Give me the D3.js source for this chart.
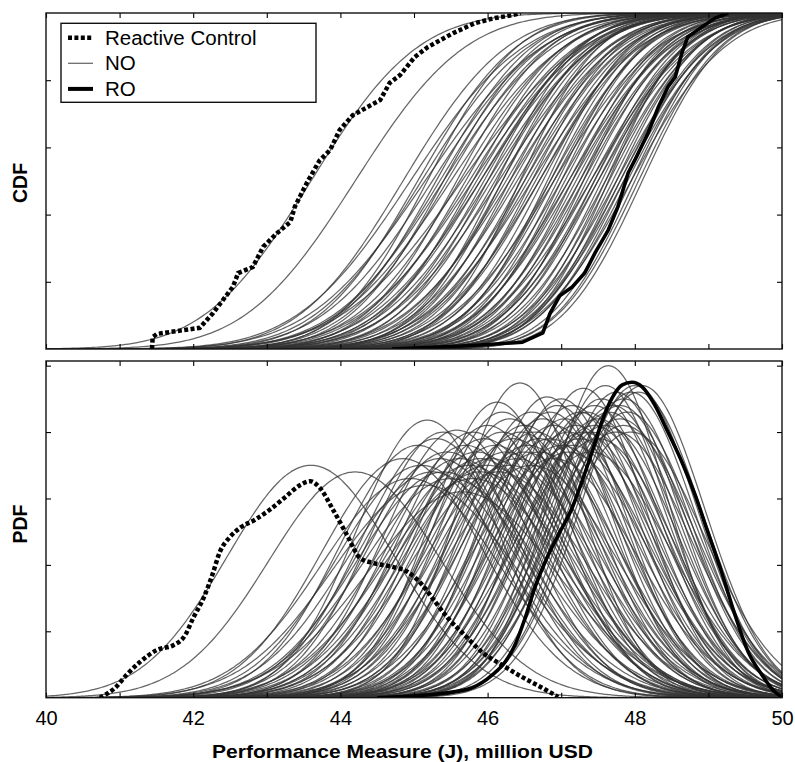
<!DOCTYPE html>
<html>
<head>
    <meta charset="utf-8">
    <script src="https://cdn.jsdelivr.net/npm/d3@7"></script>
    <title></title>
    <style>
        * {
            margin: 0;
            padding: 0;
        }

        body {
            background: #fff;
        }

        #chart {
            display: block;
            font-family: "Liberation Sans", Arial, sans-serif;
        }
    </style>
</head>
<body>

    <svg id="chart" width="795" height="762"></svg>

    <script>
        // x axis ticks (labels only on the even ones)
        var xTicks = [40, 41, 42, 43, 44, 45, 46, 47, 48, 49, 50];
        var cdfTicks = [0.2, 0.4, 0.6, 0.8];
        var pdfTicks = [0.1, 0.2, 0.3, 0.4, 0.5];

        // Reactive Control
        var rcCdfX = [41.44, 41.45, 41.51, 42.09, 42.27, 42.54, 42.61, 42.81, 42.95, 43.14, 43.32, 43.38, 43.55, 43.72, 43.86, 43.99, 44.17, 44.54, 44.67, 44.81, 45.01, 45.19, 45.53, 45.83, 46.10, 46.35, 46.45];
        var rcCdfY = [0, 0.036, 0.045, 0.063, 0.107, 0.185, 0.226, 0.244, 0.304, 0.345, 0.378, 0.423, 0.497, 0.562, 0.592, 0.652, 0.696, 0.741, 0.792, 0.815, 0.869, 0.899, 0.940, 0.970, 0.985, 0.994, 1.0];
        var rcPdfX = [40.73, 40.94, 41.10, 41.28, 41.51, 41.73, 41.89, 42.00, 42.14, 42.26, 42.36, 42.50, 42.64, 42.84, 43.04, 43.25, 43.45, 43.59, 43.72, 43.90, 44.09, 44.27, 44.44, 44.71, 44.92, 45.11, 45.29, 45.46, 45.69, 45.92, 46.20, 46.47, 46.74, 46.96];
        var rcPdfY = [0, 0.015, 0.035, 0.054, 0.072, 0.079, 0.094, 0.120, 0.150, 0.185, 0.219, 0.242, 0.256, 0.268, 0.283, 0.302, 0.320, 0.326, 0.316, 0.283, 0.245, 0.210, 0.203, 0.197, 0.189, 0.170, 0.144, 0.120, 0.094, 0.069, 0.049, 0.031, 0.015, 0.001];

        // RO
        var roCdfX = [44.7, 45.65, 45.9, 46.47, 46.75, 46.85, 46.98, 47.15, 47.32, 47.46, 47.64, 47.77, 47.91, 48.00, 48.18, 48.32, 48.45, 48.55, 48.64, 48.72, 48.91, 49.09, 49.27];
        var roCdfY = [0, 0.009, 0.012, 0.02, 0.048, 0.107, 0.158, 0.185, 0.226, 0.286, 0.354, 0.423, 0.524, 0.562, 0.643, 0.720, 0.780, 0.810, 0.881, 0.929, 0.958, 0.985, 1.0];
        var roPdfX = [44.5, 45.42, 45.79, 46.06, 46.24, 46.37, 46.51, 46.64, 46.78, 46.96, 47.15, 47.28, 47.42, 47.55, 47.69, 47.83, 47.96, 48.10, 48.27, 48.45, 48.64, 48.82, 48.99, 49.18, 49.36, 49.54, 49.73, 49.90, 50.0];
        var roPdfY = [0, 0.007, 0.015, 0.034, 0.054, 0.079, 0.120, 0.165, 0.204, 0.245, 0.286, 0.325, 0.370, 0.415, 0.451, 0.471, 0.475, 0.468, 0.441, 0.400, 0.355, 0.305, 0.250, 0.189, 0.125, 0.069, 0.034, 0.009, 0.001];

        // NO runs: too many to trace, so each one is kept as its PDF peak
        // (position, height) as estimated from the lower panel
        var noPeakX = [43.6, 44.2, 44.85, 44.95, 45.05, 45.1, 45.18, 45.25, 45.3, 45.35, 45.45, 45.5, 45.58, 45.62, 45.7, 45.75, 45.8, 45.85, 45.9, 45.95,
            46.0, 46.05, 46.1, 46.13, 46.2, 46.25, 46.3, 46.35, 46.4, 46.44, 46.5, 46.55, 46.6, 46.65, 46.7, 46.75, 46.81, 46.85, 46.9, 46.95,
            47.0, 47.05, 47.1, 47.15, 47.2, 47.25, 47.3, 47.35, 47.4, 47.45, 47.5, 47.55, 47.6, 47.64, 47.7, 47.75, 47.8, 47.85, 47.9, 47.95,
            48.0, 48.05, 48.1,
            45.15, 45.4, 45.65, 45.9, 46.15, 46.3, 46.5, 46.7, 46.9, 47.1, 47.25, 47.4, 47.5, 47.65, 47.75, 47.85, 47.95, 47.0, 46.6, 46.2,
            45.8, 45.4, 47.3, 47.6, 47.8, 46.0, 46.45, 46.85, 47.15, 47.45];
        var noPeakY = [0.35, 0.34, 0.36, 0.33, 0.38, 0.35, 0.418, 0.34, 0.39, 0.36, 0.37, 0.33, 0.403, 0.36, 0.38, 0.35, 0.40, 0.37, 0.34, 0.39,
            0.41, 0.36, 0.38, 0.445, 0.40, 0.37, 0.42, 0.39, 0.36, 0.474, 0.41, 0.38, 0.43, 0.40, 0.37, 0.42, 0.453, 0.39, 0.41, 0.44,
            0.38, 0.42, 0.40, 0.44, 0.41, 0.39, 0.466, 0.43, 0.40, 0.44, 0.42, 0.45, 0.41, 0.50, 0.44, 0.46, 0.42, 0.45, 0.43, 0.46,
            0.47, 0.46, 0.47,
            0.32, 0.34, 0.31, 0.36, 0.34, 0.35, 0.37, 0.39, 0.36, 0.37, 0.43, 0.37, 0.39, 0.43, 0.40, 0.41, 0.40, 0.45, 0.35, 0.43,
            0.33, 0.40, 0.40, 0.47, 0.44, 0.35, 0.40, 0.43, 0.38, 0.41];

        var svg = d3.select("#chart");

        var x = d3.scaleLinear().domain([40, 50]).range([46, 782]);
        var yCdf = d3.scaleLinear().domain([0, 1]).range([349, 13]);
        var yPdf = d3.scaleLinear().domain([0, 0.507]).range([697.7, 361]);

        var panels = [
            { name: "cdf", y: yCdf, ticks: cdfTicks, label: "CDF", labelY: 183 },
            { name: "pdf", y: yPdf, ticks: pdfTicks, label: "PDF", labelY: 524 }
        ];

        // normal cdf (Abramowitz-Stegun erf)
        function phi(z) {
            var t = 1 / (1 + 0.3275911 * Math.abs(z) / Math.SQRT2);
            var e = 1 - (((((1.061405429 * t - 1.453152027) * t) + 1.421413741) * t - 0.284496736) * t + 0.254829592) * t * Math.exp(-z * z / 2);
            return z >= 0 ? (1 + e) / 2 : (1 - e) / 2;
        }

        var grid = d3.range(40, 50.0001, 0.04);
        var noCurves = noPeakX.map(function (m, i) {
            var s = 1 / (noPeakY[i] * Math.sqrt(2 * Math.PI));
            return {
                cdf: grid.map(function (v) { return [v, phi((v - m) / s)]; }),
                pdf: grid.map(function (v) { return [v, noPeakY[i] * Math.exp(-(v - m) * (v - m) / (2 * s * s))]; })
            };
        });

        function zip(a, b) { return a.map(function (d, i) { return [d, b[i]]; }); }
        var rc = { cdf: zip(rcCdfX, rcCdfY), pdf: zip(rcPdfX, rcPdfY) };
        var ro = { cdf: zip(roCdfX, roCdfY), pdf: zip(roPdfX, roPdfY) };

        var defs = svg.append("defs");

        panels.forEach(function (p) {
            var y = p.y;
            var top = y.range()[1], bottom = y.range()[0];

            defs.append("clipPath").attr("id", "clip-" + p.name)
                .append("rect")
                .attr("x", x.range()[0]).attr("y", top)
                .attr("width", x.range()[1] - x.range()[0])
                .attr("height", bottom - top);

            var g = svg.append("g");
            var plot = g.append("g").attr("clip-path", "url(#clip-" + p.name + ")");

            var curve = p.name == "pdf" ? d3.curveMonotoneX : d3.curveLinear;
            var line = d3.line()
                .x(function (d) { return x(d[0]); })
                .y(function (d) { return y(d[1]); })
                .curve(curve);

            plot.selectAll(".no")
                .data(noCurves)
                .enter()
                .append("path")
                .attr("class", "no")
                .attr("d", function (d) { return line(d[p.name]); })
                .style("fill", "none")
                .style("stroke", "#333")
                .style("stroke-opacity", 0.75)
                .style("stroke-width", 1.25);

            plot.append("path")
                .attr("d", line(ro[p.name]))
                .style("fill", "none")
                .style("stroke", "#000")
                .style("stroke-width", 3.6);

            plot.append("path")
                .attr("d", line(rc[p.name]))
                .style("fill", "none")
                .style("stroke", "#000")
                .style("stroke-width", 4.5)
                .style("stroke-dasharray", "4,2.4");

            // inward ticks on all four sides
            var axes = [
                { ax: d3.axisTop(x).tickValues(xTicks), t: "translate(0," + top + ")" },
                { ax: d3.axisBottom(x).tickValues(xTicks), t: "translate(0," + bottom + ")" },
                { ax: d3.axisLeft(y).tickValues(p.ticks), t: "translate(" + x.range()[0] + ",0)" },
                { ax: d3.axisRight(y).tickValues(p.ticks), t: "translate(" + x.range()[1] + ",0)" }
            ];
            axes.forEach(function (a, k) {
                var labelled = p.name == "pdf" && k == 1;
                a.ax.tickSizeInner(-5).tickSizeOuter(0).tickPadding(13)
                    .tickFormat(function (d) { return labelled && d % 2 == 0 ? d : ""; });
                var ag = g.append("g").attr("transform", a.t).call(a.ax);
                ag.select(".domain").remove();
                ag.selectAll(".tick line").attr("stroke", "#000").attr("stroke-width", 1.1);
                ag.selectAll("text")
                    .style("font-family", "'Liberation Sans', Arial, sans-serif")
                    .style("font-size", "20px")
                    .attr("fill", "#000");
            });

            g.append("rect")
                .attr("x", x.range()[0]).attr("y", top)
                .attr("width", x.range()[1] - x.range()[0])
                .attr("height", bottom - top)
                .style("fill", "none")
                .style("stroke", "#111")
                .style("stroke-width", 1.4);

            g.append("text")
                .attr("transform", "translate(27," + p.labelY + ") rotate(-90)")
                .attr("text-anchor", "middle")
                .style("font-weight", "bold")
                .style("font-size", "19.5px")
                .text(p.label);
        });

        svg.append("text")
            .attr("x", 402.5)
            .attr("y", 758)
            .attr("text-anchor", "middle")
            .attr("textLength", 381)
            .attr("lengthAdjust", "spacingAndGlyphs")
            .style("font-weight", "bold")
            .style("font-size", "19px")
            .text("Performance Measure (J), million USD");

        // legend
        var legendItems = [
            { name: "Reactive Control", stroke: "#000", width: 4.5, dash: "4,2.4", opacity: 1 },
            { name: "NO", stroke: "#333", width: 1.25, dash: null, opacity: 0.75 },
            { name: "RO", stroke: "#000", width: 4, dash: null, opacity: 1 }
        ];
        var legend = svg.append("g");
        legend.append("rect")
            .attr("x", 61).attr("y", 23.3)
            .attr("width", 255).attr("height", 79)
            .style("fill", "#fff")
            .style("stroke", "#111")
            .style("stroke-width", 1.4);
        var rows = legend.selectAll(".row")
            .data(legendItems)
            .enter()
            .append("g")
            .attr("transform", function (d, i) { return "translate(0," + (37.7 + i * 25.6) + ")"; });
        rows.append("line")
            .attr("x1", 68).attr("x2", 93)
            .style("stroke", function (d) { return d.stroke; })
            .style("stroke-width", function (d) { return d.width; })
            .style("stroke-opacity", function (d) { return d.opacity; })
            .style("stroke-dasharray", function (d) { return d.dash; });
        rows.append("text")
            .attr("x", 105)
            .attr("y", 6.8)
            .style("font-size", "20.5px")
            .text(function (d) { return d.name; });
    </script>
</body>
</html>
